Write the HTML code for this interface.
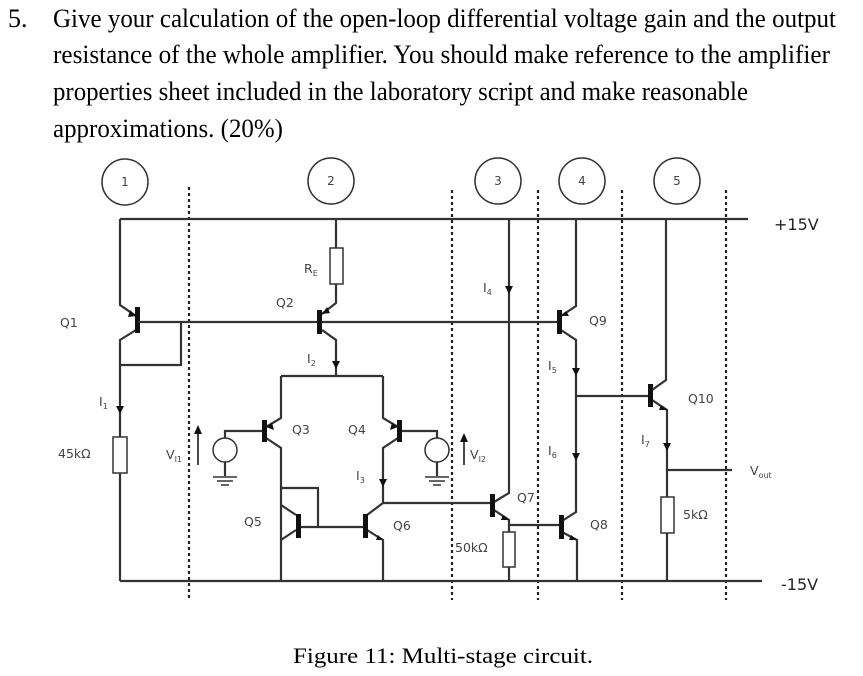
<!DOCTYPE html>
<html><head><meta charset="utf-8"><style>
html,body{margin:0;padding:0;background:#fff;}
svg{display:block;}
.q{font-family:"Liberation Serif",serif;font-size:26px;fill:#000;}
.l{font-family:"DejaVu Sans","Liberation Sans",sans-serif;font-size:12.5px;fill:#444;}
.w{stroke:#333;stroke-width:2.2;fill:none;}
.d{stroke:#222;stroke-width:2.2;stroke-dasharray:3,3;fill:none;}
.b{fill:#111;}
</style></head><body>
<svg width="863" height="676" viewBox="0 0 863 676" xmlns="http://www.w3.org/2000/svg">
<text class="q" x="8" y="27">5.</text>
<text class="q" x="53" y="27" textLength="783" lengthAdjust="spacingAndGlyphs">Give your calculation of the open-loop differential voltage gain and the output</text>
<text class="q" x="53" y="63" textLength="777" lengthAdjust="spacingAndGlyphs">resistance of the whole amplifier. You should make reference to the amplifier</text>
<text class="q" x="53" y="100" textLength="695" lengthAdjust="spacingAndGlyphs">properties sheet included in the laboratory script and make reasonable</text>
<text class="q" x="53" y="137" textLength="230" lengthAdjust="spacingAndGlyphs">approximations. (20%)</text>

<g stroke="#333" stroke-width="1.5" fill="none">
<circle cx="125" cy="182" r="23"/><circle cx="331" cy="181" r="23"/>
<circle cx="498" cy="181" r="23"/><circle cx="582" cy="181" r="23"/><circle cx="677" cy="181" r="23"/>
</g>
<g class="l" text-anchor="middle" style="font-size:12px">
<text x="125" y="186">1</text><text x="331" y="185">2</text><text x="498" y="185">3</text><text x="582" y="185">4</text><text x="677" y="185">5</text>
</g>

<line class="d" x1="189" y1="187" x2="189" y2="600"/>
<line class="d" x1="452" y1="190" x2="452" y2="600"/>
<line class="d" x1="538" y1="190" x2="538" y2="600"/>
<line class="d" x1="622" y1="190" x2="622" y2="600"/>
<line class="d" x1="726" y1="190" x2="726" y2="600"/>

<path class="w" d="M120 219 H748 M120 581 H762"/>
<path class="w" d="M120 219 V305 L136 316 M136 330 L120 340 V581"/>
<rect class="b" x="135" y="307" width="5" height="26"/>
<path class="w" d="M138 322 H558 M120 365 H181 V322"/>
<rect x="113" y="437" width="14" height="36" fill="#fff" stroke="#333" stroke-width="1.5"/>
<path class="w" d="M336 219 V248 M336 284 V303 L322 314 M322 330 L336 340 V376 M281 376 H383"/>
<rect x="330" y="248" width="13" height="36" fill="#fff" stroke="#333" stroke-width="1.5"/>
<rect class="b" x="317" y="310" width="5" height="24"/>
<path class="w" d="M281 376 V418 L266 427 M266 438 L281 448 V581"/>
<rect class="b" x="262" y="420" width="5" height="22"/>
<path class="w" d="M262 431 H225 V438 M225 462 V476"/>
<circle cx="225" cy="450" r="12" fill="#fff" stroke="#333" stroke-width="1.5"/>
<path class="w" d="M213 477 H237 M217 481 H233 M221 485 H229" style="stroke-width:1.5"/>
<path class="w" d="M383 376 V418 L398 427 M398 438 L383 448 V503 L367 515 M367 530 L383 540 V581"/>
<rect class="b" x="397" y="420" width="5" height="22"/>
<path class="w" d="M402 431 H437 V438 M437 462 V476"/>
<circle cx="437" cy="450" r="12" fill="#fff" stroke="#333" stroke-width="1.5"/>
<path class="w" d="M425 477 H449 M429 481 H445 M433 485 H441" style="stroke-width:1.5"/>
<path class="w" d="M281 488 H318 V527 M281 505 L296 515 M296 530 L281 540 M300 527 H365"/>
<rect class="b" x="296" y="514" width="5" height="24"/>
<rect class="b" x="363" y="514" width="5" height="24"/>
<path class="w" d="M383 503 H492"/>
<path class="w" d="M509 219 V493 L494 502 M494 510 L509 520 V532 M509 567 V581 M509 525 H560"/>
<rect class="b" x="490" y="494" width="5" height="23"/>
<rect x="503" y="532" width="12" height="35" fill="#fff" stroke="#333" stroke-width="1.5"/>
<path class="w" d="M576 219 V306 L561 316 M561 330 L576 340 V512 L562 521 M562 532 L577 540 V581 M576 396 H650"/>
<rect class="b" x="557" y="310" width="5" height="24"/>
<rect class="b" x="559" y="515" width="5" height="24"/>
<path class="w" d="M666 219 V380 L652 390 M652 400 L667 410 V497 M667 533 V581 M667 470 H732"/>
<rect class="b" x="648" y="384" width="5" height="23"/>
<rect x="661" y="497" width="13" height="36" fill="#fff" stroke="#333" stroke-width="1.5"/>

<g class="b">
<path d="M116 406 L124 406 L120 414Z"/>
<path d="M332 361 L340 361 L336 369Z"/>
<path d="M379 479 L387 479 L383 487Z"/>
<path d="M505 286 L513 286 L509 294Z"/>
<path d="M572 368 L580 368 L576 376Z"/>
<path d="M572 453 L580 453 L576 461Z"/>
<path d="M663 443 L671 443 L667 451Z"/>
<path d="M130 310 L136 316 L128 317Z"/>
<path d="M327 307 L322 314 L330 313Z"/>
<path d="M272 423 L266 427 L274 430Z"/>
<path d="M392 423 L398 427 L390 430Z"/>
<path d="M285 537 L281 540 L288 534Z"/>
<path d="M378 535 L383 540 L376 540Z"/>
<path d="M503 515 L509 520 L501 520Z"/>
<path d="M571 535 L577 540 L569 540Z"/>
<path d="M566 311 L561 316 L569 316Z"/>
<path d="M661 405 L667 410 L659 410Z"/>
</g>
<path class="w" d="M198 465 V432 M464 465 V440" style="stroke-width:1.8"/>
<path class="b" d="M194 434 L202 434 L198 425Z M460 442 L468 442 L464 433Z"/>

<g class="l">
<text x="60" y="327">Q1</text>
<text x="276" y="307">Q2</text>
<text x="304" y="273">R<tspan font-size="8" dy="3">E</tspan></text>
<text x="307" y="363">I<tspan font-size="8" dy="3">2</tspan></text>
<text x="99" y="406">I<tspan font-size="8" dy="3">1</tspan></text>
<text x="58" y="458">45kΩ</text>
<text x="166" y="459">V<tspan font-size="8" dy="3">I1</tspan></text>
<text x="292" y="434">Q3</text>
<text x="348" y="434">Q4</text>
<text x="356" y="480">I<tspan font-size="8" dy="3">3</tspan></text>
<text x="244" y="526">Q5</text>
<text x="393" y="530">Q6</text>
<text x="470" y="459">V<tspan font-size="8" dy="3">I2</tspan></text>
<text x="455" y="552">50kΩ</text>
<text x="517" y="502">Q7</text>
<text x="590" y="529">Q8</text>
<text x="589" y="325">Q9</text>
<text x="483" y="292">I<tspan font-size="8" dy="3">4</tspan></text>
<text x="548" y="370">I<tspan font-size="8" dy="3">5</tspan></text>
<text x="548" y="455">I<tspan font-size="8" dy="3">6</tspan></text>
<text x="641" y="444">I<tspan font-size="8" dy="3">7</tspan></text>
<text x="688" y="403">Q10</text>
<text x="683" y="519">5kΩ</text>
<text x="750" y="475">V<tspan font-size="8" dy="3">out</tspan></text>
<text x="774" y="230" style="font-size:16px;fill:#222">+15V</text>
<text x="781" y="590" style="font-size:16px;fill:#222">-15V</text>
</g>
<text x="293" y="663" style="font-family:'Liberation Serif',serif;font-size:22px" textLength="300" lengthAdjust="spacingAndGlyphs">Figure 11: Multi-stage circuit.</text>
</svg>
</body></html>
